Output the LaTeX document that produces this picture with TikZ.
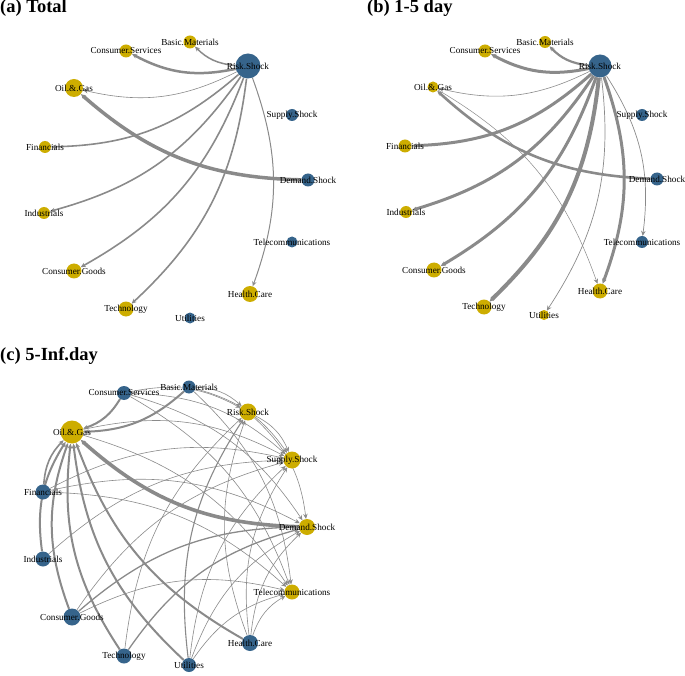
\documentclass[tikz,border=0pt]{standalone}
\usepackage{fontspec}
\setmainfont{Liberation Serif}
\usetikzlibrary{arrows.meta, backgrounds}
\definecolor{gold3}{HTML}{CDAD00}
\definecolor{steel4}{HTML}{36648B}
\definecolor{edgegray}{HTML}{8A8A8A}
\newcommand{\lblfont}{\fontsize{9.2}{10}\selectfont}
\newcommand{\ttlfont}{\fontsize{18.5}{20}\selectfont\bfseries}

\begin{document}
\begin{tikzpicture}[x=1pt, y=-1pt, bend angle=20, >={Stealth[length=5pt, width=4.5pt]},
    gnode/.style = {circle, fill=gold3, inner sep=0pt, minimum size=#1},
    bnode/.style = {circle, fill=steel4, inner sep=0pt, minimum size=#1},
    every label/.style = {font=\lblfont, inner sep=0pt},
    lnk/.style = {draw=edgegray, line width=#1}]
    \useasboundingbox (0,0) rectangle (685,676);

    % Titoli
    \node[anchor=base west, font=\ttlfont, inner sep=0pt] (ta) at (0,13) {(a) Total};
    \node[anchor=base west, font=\ttlfont, inner sep=0pt] (tb) at (367,13) {(b) 1-5 day};
    \node[anchor=base west, font=\ttlfont, inner sep=0pt] (tc) at (0,360) {(c) 5-Inf.day};

    % Nodi del pannello (a)
    \node[gnode=13, label=center:Basic.Materials] (aBM) at (190,42) {};
    \node[gnode=13, label=center:Consumer.Services] (aCS) at (126,51) {};
    \node[bnode=25, label=center:Risk.Shock] (aRS) at (248,66) {};
    \node[gnode=18, label=center:Oil.\&.Gas] (aOG) at (74,88) {};
    \node[bnode=12, label=center:Supply.Shock] (aSS) at (292,115) {};
    \node[gnode=12, label=center:Financials] (aFi) at (45,147) {};
    \node[bnode=13, label=center:Demand.Shock] (aDS) at (308,180) {};
    \node[gnode=12, label=center:Industrials] (aIn) at (44,213) {};
    \node[bnode=11, label=center:Telecommunications] (aTC) at (292,242) {};
    \node[gnode=15, label=center:Consumer.Goods] (aCG) at (74,271) {};
    \node[gnode=16, label=center:Health.Care] (aHC) at (250,294) {};
    \node[gnode=15, label=center:Technology] (aTe) at (126,309) {};
    \node[bnode=11, label=center:Utilities] (aUt) at (190,318) {};

    % Nodi del pannello (b)
    \node[gnode=12, label=center:Basic.Materials] (bBM) at (545,42) {};
    \node[gnode=13, label=center:Consumer.Services] (bCS) at (485,51) {};
    \node[bnode=23, label=center:Risk.Shock] (bRS) at (600,66) {};
    \node[gnode=11, label=center:Oil.\&.Gas] (bOG) at (433,87) {};
    \node[bnode=12, label=center:Supply.Shock] (bSS) at (642,115) {};
    \node[gnode=13, label=center:Financials] (bFi) at (405,146) {};
    \node[bnode=13, label=center:Demand.Shock] (bDS) at (657,179) {};
    \node[gnode=12, label=center:Industrials] (bIn) at (406,212) {};
    \node[bnode=12, label=center:Telecommunications] (bTC) at (642,242) {};
    \node[gnode=15, label=center:Consumer.Goods] (bCG) at (434,270) {};
    \node[gnode=15, label=center:Health.Care] (bHC) at (600,291) {};
    \node[gnode=15, label=center:Technology] (bTe) at (484,307) {};
    \node[gnode=10, label=center:Utilities] (bUt) at (544,315) {};

    % Nodi del pannello (c)
    \node[bnode=13, label=center:Basic.Materials] (cBM) at (189,387) {};
    \node[bnode=14, label=center:Consumer.Services] (cCS) at (124,393) {};
    \node[gnode=17, label=center:Risk.Shock] (cRS) at (248,412) {};
    \node[gnode=23, label=center:Oil.\&.Gas] (cOG) at (72,432) {};
    \node[gnode=17, label=center:Supply.Shock] (cSS) at (292,460) {};
    \node[bnode=15, label=center:Financials] (cFi) at (43,492) {};
    \node[gnode=16, label=center:Demand.Shock] (cDS) at (307,527) {};
    \node[bnode=15, label=center:Industrials] (cIn) at (43,559) {};
    \node[gnode=15, label=center:Telecommunications] (cTC) at (292,592) {};
    \node[bnode=17, label=center:Consumer.Goods] (cCG) at (72,617) {};
    \node[bnode=16, label=center:Health.Care] (cHC) at (250,643) {};
    \node[bnode=15, label=center:Technology] (cTe) at (124,656) {};
    \node[bnode=14, label=center:Utilities] (cUt) at (189,665) {};

    \begin{scope}[on background layer]
    % Archi del pannello (a)
    \draw[->, lnk=1.5] (aRS)[bend left] to (aBM);
    \draw[->, lnk=2.5] (aRS)[bend left] to (aCS);
    \draw[->, lnk=0.6] (aRS)[bend left] to (aOG);
    \draw[->, lnk=1.6] (aRS)[bend left] to (aFi);
    \draw[->, lnk=1.6] (aRS)[bend left] to (aIn);
    \draw[->, lnk=1.6] (aRS)[bend left] to (aCG);
    \draw[->, lnk=1.6] (aRS)[bend left] to (aTe);
    \draw[->, lnk=1.0] (aRS)[bend left] to (aHC);
    \draw[->, lnk=3.5] (aDS)[bend left] to (aOG);

    % Archi del pannello (b)
    \draw[->, lnk=2.2] (bRS)[bend left] to (bBM);
    \draw[->, lnk=3.0] (bRS)[bend left] to (bCS);
    \draw[->, lnk=0.6] (bRS)[bend left] to (bOG);
    \draw[->, lnk=3.0] (bRS)[bend left] to (bFi);
    \draw[->, lnk=3.0] (bRS)[bend left] to (bIn);
    \draw[->, lnk=3.0] (bRS)[bend left] to (bCG);
    \draw[->, lnk=4.0] (bRS)[bend left] to (bTe);
    \draw[->, lnk=0.7] (bRS)[bend left] to (bUt);
    \draw[->, lnk=3.0] (bRS)[bend left] to (bHC);
    \draw[->, lnk=0.7] (bRS)[bend left] to (bTC);
    \draw[->, lnk=2.6] (bDS)[bend left] to (bOG);
    \draw[->, lnk=0.5] (bOG)[bend left] to (bHC);

    % Archi del pannello (c)
    \draw[->, lnk=2.0] (cCS)[bend left] to (cOG);
    \draw[->, lnk=2.0] (cBM)[bend left] to (cOG);
    \draw[->, lnk=1.6] (cFi)[bend left] to (cOG);
    \draw[->, lnk=2.0] (cIn)[bend left] to (cOG);
    \draw[->, lnk=2.0] (cCG)[bend left] to (cOG);
    \draw[->, lnk=2.0] (cTe)[bend left] to (cOG);
    \draw[->, lnk=2.0] (cUt)[bend left] to (cOG);
    \draw[->, lnk=2.0] (cHC)[bend left] to (cOG);
    \draw[->, lnk=3.6] (cDS)[bend left] to (cOG);
    \draw[->, lnk=0.6] (cOG)[bend left] to (cSS);
    \draw[->, lnk=0.6] (cOG)[bend left] to (cTC);
    \draw[->, lnk=0.6] (cBM)[bend left] to (cRS);
    \draw[->, lnk=0.6] (cBM)[bend left] to (cSS);
    \draw[->, lnk=0.6] (cBM)[bend left] to (cTC);
    \draw[->, lnk=0.6] (cCS)[bend left] to (cRS);
    \draw[->, lnk=0.6] (cCS)[bend left] to (cSS);
    \draw[->, lnk=0.6] (cCS)[bend left] to (cDS);
    \draw[->, lnk=0.6] (cCS)[bend left] to (cTC);
    \draw[->, lnk=0.6] (cRS)[bend left] to (cSS);
    \draw[->, lnk=0.6] (cRS)[bend left] to (cDS);
    \draw[->, lnk=0.6] (cFi)[bend left] to (cSS);
    \draw[->, lnk=0.6] (cFi)[bend left] to (cDS);
    \draw[->, lnk=0.6] (cFi)[bend left] to (cTC);
    \draw[->, lnk=0.6] (cIn)[bend left] to (cSS);
    \draw[->, lnk=0.6] (cCG)[bend left] to (cSS);
    \draw[->, lnk=1.3] (cCG)[bend left] to (cDS);
    \draw[->, lnk=0.6] (cCG)[bend left] to (cTC);
    \draw[->, lnk=0.6] (cTe)[bend left] to (cRS);
    \draw[->, lnk=1.3] (cTe)[bend left] to (cDS);
    \draw[->, lnk=1.1] (cUt)[bend left] to (cRS);
    \draw[->, lnk=0.6] (cUt)[bend left] to (cSS);
    \draw[->, lnk=0.6] (cUt)[bend left] to (cDS);
    \draw[->, lnk=0.6] (cUt)[bend left] to (cTC);
    \draw[->, lnk=0.6] (cHC)[bend left] to (cRS);
    \draw[->, lnk=0.6] (cHC)[bend left] to (cSS);
    \draw[->, lnk=0.6] (cHC)[bend left] to (cDS);
    \draw[->, lnk=0.6] (cHC)[bend left] to (cTC);
    \end{scope}
\end{tikzpicture}
\end{document}
